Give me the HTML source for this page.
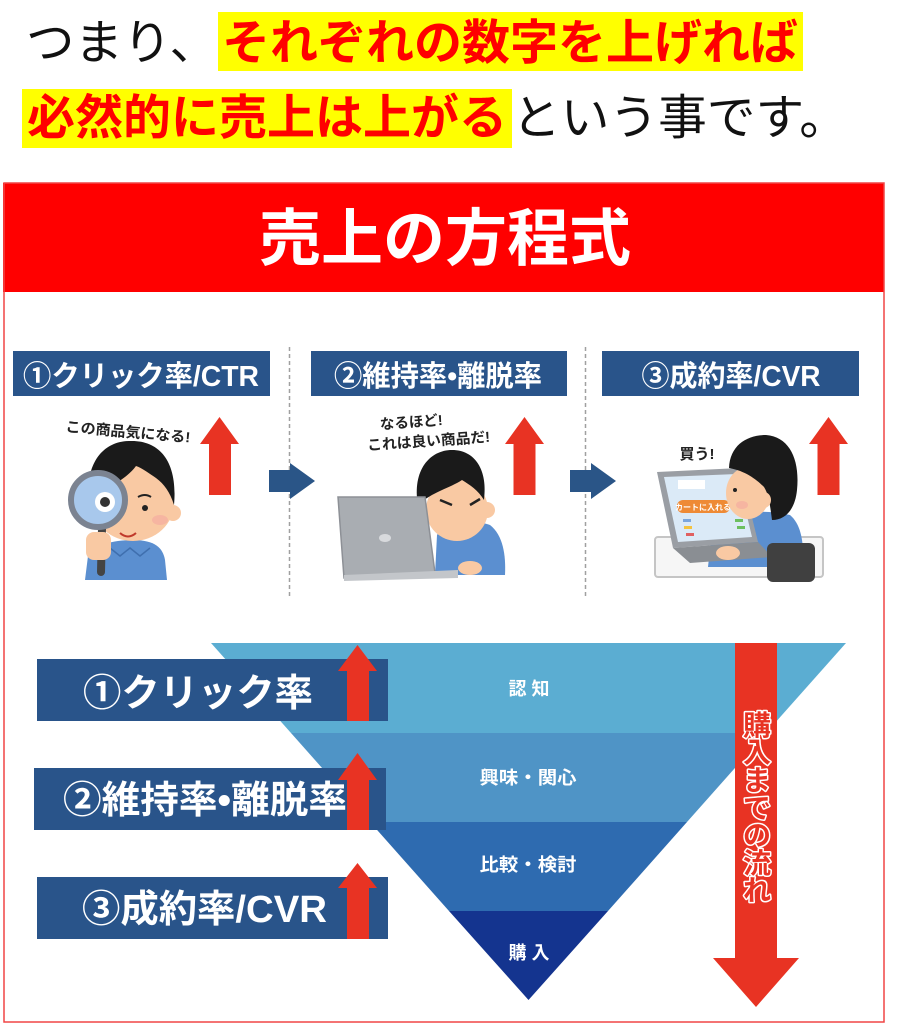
<!DOCTYPE html>
<html><head><meta charset="utf-8"><style>
html,body{margin:0;padding:0;background:#fff;}
svg{display:block;}
text{font-family:"Liberation Sans","Noto Sans CJK JP",sans-serif;}
</style></head><body>
<svg width="898" height="1024" viewBox="0 0 898 1024" xmlns="http://www.w3.org/2000/svg">
<!-- Top text -->
<rect x="218" y="12" width="585" height="59" fill="#ffff00"/>
<rect x="22" y="89" width="490" height="59" fill="#ffff00"/>
<text x="26" y="59" font-size="48" fill="#111" textLength="192" lengthAdjust="spacingAndGlyphs">つまり、</text>
<text x="222" y="59" font-size="48" font-weight="bold" fill="#ff0000" textLength="576" lengthAdjust="spacingAndGlyphs">それぞれの数字を上げれば</text>
<text x="27" y="134" font-size="48" font-weight="bold" fill="#ff0000" textLength="480" lengthAdjust="spacingAndGlyphs">必然的に売上は上がる</text>
<text x="512" y="134" font-size="48" fill="#111" textLength="336" lengthAdjust="spacingAndGlyphs">という事です。</text>

<!-- Banner -->
<rect x="3" y="183" width="881" height="109" fill="#ff0000"/>
<text x="445" y="260" font-size="62" font-weight="bold" fill="#fff" text-anchor="middle">売上の方程式</text>
<rect x="4" y="183" width="880" height="839" fill="none" stroke="#f04545" stroke-width="1.5"/>

<!-- Step labels -->
<rect x="13" y="351" width="257" height="45" fill="#29548a"/>
<rect x="311" y="351" width="256" height="45" fill="#29548a"/>
<rect x="602" y="351" width="257" height="45" fill="#29548a"/>
<text x="141" y="386" font-size="29" font-weight="bold" fill="#fff" text-anchor="middle" textLength="236" lengthAdjust="spacingAndGlyphs">①クリック率/CTR</text>
<text x="438" y="386" font-size="29" font-weight="bold" fill="#fff" text-anchor="middle" textLength="208" lengthAdjust="spacingAndGlyphs">②維持率•離脱率</text>
<text x="731" y="386" font-size="29" font-weight="bold" fill="#fff" text-anchor="middle" textLength="179" lengthAdjust="spacingAndGlyphs">③成約率/CVR</text>

<!-- dashed separators -->
<line x1="289.5" y1="347" x2="289.5" y2="598" stroke="#a0a0a0" stroke-width="1.5" stroke-dasharray="4 3"/>
<line x1="585.5" y1="347" x2="585.5" y2="598" stroke="#a0a0a0" stroke-width="1.5" stroke-dasharray="4 3"/>

<!-- red up arrows top -->
<polygon points="219.5,417 239,444 231,444 231,495 209,495 209,444 200,444" fill="#e83323"/>
<polygon points="524.5,417 544,444 535.5,444 535.5,495 513.5,495 513.5,444 505,444" fill="#e83323"/>
<polygon points="828.5,417 848,444 839.5,444 839.5,495 817.5,495 817.5,444 809,444" fill="#e83323"/>

<!-- blue right arrows -->
<polygon points="269,470 290,470 290,463 315,481 290,499 290,492 269,492" fill="#2a5587"/>
<polygon points="570,470 591,470 591,463 616,481 591,499 591,492 570,492" fill="#2a5587"/>

<!-- Illustration 1 -->
<text x="128" y="437" font-size="14.5" font-weight="bold" fill="#222" text-anchor="middle" transform="rotate(5 128 432)" textLength="125" lengthAdjust="spacingAndGlyphs">この商品気になる!</text>
<path d="M85,580 L88,556 C95,545 112,540 133,540 C155,540 163,548 165,560 L167,580 Z" fill="#5b8fd0"/>
<path d="M110,548 L120,556 L130,548 L140,556 L150,548" stroke="#3f6fae" stroke-width="1.5" fill="none"/>
<ellipse cx="133" cy="503" rx="41" ry="38" fill="#f9c9a3"/>
<circle cx="173" cy="513" r="8" fill="#f9c9a3"/>
<ellipse cx="160" cy="520" rx="8" ry="5" fill="#f4a9a0" opacity="0.6"/>
<path d="M89,505 C84,462 104,440 132,441 C160,441 178,462 174,505 C170,492 164,484 156,478 C150,474 142,468 136,466 C126,480 106,487 89,505 Z" fill="#1a1a1a"/>
<circle cx="145" cy="508" r="3" fill="#222"/>
<path d="M138,497 Q145,493 151,497" stroke="#222" stroke-width="2" fill="none"/>
<path d="M120,533 Q128,540 136,533" stroke="#c0392b" stroke-width="2" fill="none"/>
<line x1="102" y1="528" x2="101" y2="572" stroke="#444" stroke-width="8" stroke-linecap="round"/>
<rect x="86" y="532" width="25" height="28" rx="8" fill="#f9c9a3"/>
<circle cx="98" cy="500" r="27" fill="#a8c8ec" stroke="#7b8391" stroke-width="6"/>
<circle cx="105" cy="502" r="10" fill="#fff"/>
<circle cx="105" cy="502" r="5" fill="#333"/>

<!-- Illustration 2 -->
<g transform="rotate(-4 428 432)">
<text x="412" y="426" font-size="14.5" font-weight="bold" fill="#222" text-anchor="middle">なるほど!</text>
<text x="428" y="446" font-size="14.5" font-weight="bold" fill="#222" text-anchor="middle" textLength="123" lengthAdjust="spacingAndGlyphs">これは良い商品だ!</text>
</g>
<path d="M435,575 L437,535 C445,520 470,518 490,525 C503,535 506,555 505,575 Z" fill="#5b8fd0"/>
<ellipse cx="457" cy="510" rx="31" ry="31" fill="#f9c9a3"/>
<circle cx="487" cy="510" r="8" fill="#f9c9a3"/>
<path d="M418,505 C412,470 430,450 452,450 C475,450 488,470 484,500 C478,490 470,485 462,480 C450,488 432,492 418,505 Z" fill="#1a1a1a"/>
<path d="M440,500 L452,505 M470,505 L480,499" stroke="#222" stroke-width="2.5"/>
<ellipse cx="470" cy="568" rx="12" ry="7" fill="#f9c9a3"/>
<polygon points="338,497 425,497 435,573 344,578" fill="#a9adb2" stroke="#8d9096" stroke-width="1.5"/>
<polygon points="344,575 458,570 458,578 344,581" fill="#c3c6ca"/>
<ellipse cx="385" cy="538" rx="6" ry="4" fill="#d8dadd"/>

<!-- Illustration 3 -->
<text x="697" y="459" font-size="15" font-weight="bold" fill="#222" text-anchor="middle">買う!</text>
<rect x="655" y="537" width="168" height="40" rx="3" fill="#f6f6f6" stroke="#c5c5c5" stroke-width="2"/>
<path d="M708,567 L712,530 C722,512 760,508 790,515 C802,525 804,545 803,567 Z" fill="#5b8fd0"/>
<polygon points="657,472 740,468 758,542 673,548" fill="#9a9ea4"/>
<polygon points="664,477 737,474 752,537 678,542" fill="#dbeaf7"/>
<rect x="678" y="480" width="27" height="9" fill="#fff"/>
<rect x="677" y="500" width="53" height="13" rx="6" fill="#ee8a35"/>
<text x="703" y="510" font-size="8" font-weight="bold" fill="#fff" text-anchor="middle">カートに入れる</text>
<rect x="683" y="519" width="8" height="3" fill="#7aa6dd"/>
<rect x="684" y="526" width="8" height="3" fill="#f3c340"/>
<rect x="686" y="533" width="8" height="3" fill="#e06060"/>
<rect x="735" y="519" width="8" height="3" fill="#6cbf60"/>
<rect x="737" y="526" width="8" height="3" fill="#6cbf60"/>
<polygon points="673,548 758,542 772,557 690,563" fill="#8a8e93"/>
<ellipse cx="748" cy="493" rx="22" ry="26" fill="#f9c9a3"/>
<ellipse cx="742" cy="505" rx="6" ry="4" fill="#f4a9a0" opacity="0.6"/>
<circle cx="735" cy="490" r="2" fill="#222"/>
<path d="M729,468 C730,445 747,435 766,435 C790,437 800,460 797,490 C795,510 785,520 772,520 C770,505 769,495 764,487 C757,480 746,471 729,468 Z" fill="#1a1a1a"/>
<ellipse cx="764" cy="500" rx="7" ry="8" fill="#f9c9a3"/>
<ellipse cx="728" cy="553" rx="12" ry="7" fill="#f9c9a3"/>
<rect x="767" y="543" width="48" height="39" rx="6" fill="#404040"/>

<!-- Funnel -->
<polygon points="211,643 846,643 766,733 291,733" fill="#5badd2"/>
<polygon points="291,733 766,733 687,822 370,822" fill="#4f94c6"/>
<polygon points="370,822 687,822 608,911 449,911" fill="#2e6bb0"/>
<polygon points="449,911 608,911 528.5,1000" fill="#14348f"/>
<text x="529" y="695" font-size="18" font-weight="bold" fill="#fff" text-anchor="middle">認 知</text>
<text x="528" y="784" font-size="18" font-weight="bold" fill="#fff" text-anchor="middle" textLength="97" lengthAdjust="spacingAndGlyphs">興味・関心</text>
<text x="528" y="871" font-size="18" font-weight="bold" fill="#fff" text-anchor="middle" textLength="97" lengthAdjust="spacingAndGlyphs">比較・検討</text>
<text x="529" y="959" font-size="18" font-weight="bold" fill="#fff" text-anchor="middle">購 入</text>

<!-- Left labels -->
<rect x="37" y="659" width="351" height="62" fill="#29548a"/>
<rect x="34" y="768" width="352" height="62" fill="#29548a"/>
<rect x="37" y="877" width="351" height="62" fill="#29548a"/>
<text x="83" y="706" font-size="38" font-weight="bold" fill="#fff" textLength="230" lengthAdjust="spacingAndGlyphs">①クリック率</text>
<text x="63" y="813" font-size="38" font-weight="bold" fill="#fff" textLength="284" lengthAdjust="spacingAndGlyphs">②維持率•離脱率</text>
<text x="82" y="922" font-size="38" font-weight="bold" fill="#fff" textLength="245" lengthAdjust="spacingAndGlyphs">③成約率/CVR</text>
<polygon points="357.5,645 377,671 369,671 369,721 347,721 347,671 338,671" fill="#e83323"/>
<polygon points="357.5,753 377,780 369,780 369,830 347,830 347,780 338,780" fill="#e83323"/>
<polygon points="357.5,863 377,888 369,888 369,939 347,939 347,888 338,888" fill="#e83323"/>

<!-- Big down arrow -->
<polygon points="735,643 777,643 777,958 799,958 756,1007 713,958 735,958" fill="#e83323"/>
<g font-size="28" font-weight="bold" fill="#e83323" stroke="#fff" stroke-width="3" paint-order="stroke" text-anchor="middle" stroke-linejoin="round">
<text x="757" y="735">購</text>
<text x="757" y="762">入</text>
<text x="757" y="790">ま</text>
<text x="757" y="818">で</text>
<text x="757" y="845">の</text>
<text x="757" y="873">流</text>
<text x="757" y="900">れ</text>
</g>
</svg>
</body></html>
